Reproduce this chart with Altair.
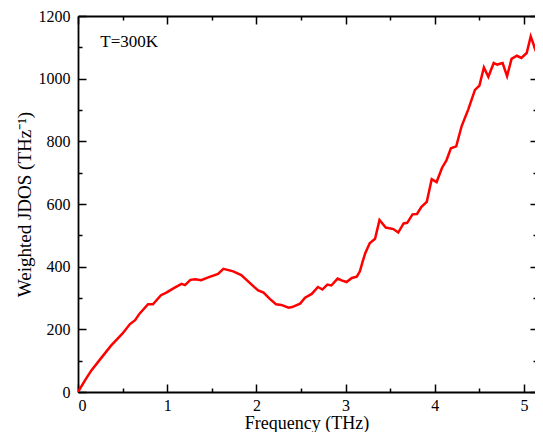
import altair as alt
import pandas as pd

# ---- data ----
freq = [0.00, 0.08, 0.15, 0.25, 0.37, 0.50, 0.58, 0.64, 0.69, 0.785, 0.84, 0.93, 0.99,
        1.065, 1.16, 1.20, 1.26, 1.315, 1.38, 1.46, 1.57, 1.63, 1.74, 1.83, 1.965, 2.02,
        2.08, 2.15, 2.22, 2.28, 2.36, 2.40, 2.49, 2.545, 2.62, 2.69, 2.74, 2.795, 2.84,
        2.91, 2.955, 3.01, 3.07, 3.125, 3.16, 3.19, 3.22, 3.27, 3.33, 3.38, 3.45, 3.535,
        3.59, 3.65, 3.69, 3.75, 3.80, 3.85, 3.91, 3.965, 4.02, 4.08, 4.13, 4.18, 4.24,
        4.30, 4.375, 4.45, 4.50, 4.55, 4.60, 4.66, 4.70, 4.76, 4.81, 4.86, 4.92, 4.97,
        5.03, 5.075, 5.13, 5.18, 5.21, 5.25]
jdos = [0, 38, 69, 105, 148, 187, 216, 229, 250, 280, 280, 309, 317,
        330, 345, 341, 358, 360, 357, 366, 377, 393, 385, 373, 338, 324,
        317, 297, 280, 278, 269, 271, 282, 301, 313, 335, 327, 343, 340,
        362, 356, 351, 364, 368, 385, 415, 443, 475, 489, 549, 525, 520,
        509, 538, 540, 567, 568, 591, 607, 679, 670, 715, 739, 778, 784,
        848, 902, 964, 978, 1036, 1006, 1050, 1045, 1050, 1008, 1063, 1073, 1066,
        1082, 1135, 1090, 1094, 1108, 1118]

x_major = [0, 1, 2, 3, 4, 5]
x_minor = [0.5, 1.5, 2.5, 3.5, 4.5]
y_major = [0, 200, 400, 600, 800, 1000, 1200]
y_minor = [100, 300, 500, 700, 900, 1100]

note_text = ["T=300K"]
note_x = [0.25]
note_y = [1100]

x_title = "Frequency (THz)"
y_title = "Weighted JDOS (THz\u207b\u00b9)"

df = pd.DataFrame({"f": freq, "v": jdos})
notes = pd.DataFrame({"f": note_x, "v": note_y, "t": note_text})

X_DOMAIN = [0, 5.123]
Y_DOMAIN = [0, 1200]
FONT = "Liberation Serif, Times New Roman, serif"
BLACK = "#000000"


def xs(axis):
    return alt.X("f:Q", scale=alt.Scale(domain=X_DOMAIN, nice=False, zero=False), axis=axis)


def ys(axis):
    return alt.Y("v:Q", scale=alt.Scale(domain=Y_DOMAIN, nice=False, zero=False), axis=axis)


def tick_axis(orient, values, size):
    return alt.Axis(orient=orient, offset=-size, tickSize=size, values=values,
                    labels=False, domain=False, grid=False, title=None, ticks=True,
                    tickColor=BLACK, tickWidth=1.5)


main = alt.Chart(df).mark_line(color="#ff0000", strokeWidth=2.5, clip=True).encode(
    x=xs(alt.Axis(orient="bottom", values=x_major, format="d", ticks=False, domain=True,
                  domainColor=BLACK, domainWidth=1.8, titleFontSize=18,
                  grid=False, title=x_title, labelPadding=5, titlePadding=1)),
    y=ys(alt.Axis(orient="left", values=y_major, format="d", ticks=False, domain=True,
                  domainColor=BLACK, domainWidth=1.8, titleFontSize=19,
                  grid=False, title=y_title, labelPadding=8, titlePadding=4)),
)

note = alt.Chart(notes).mark_text(align="left", baseline="alphabetic", font=FONT,
                                  fontSize=17, color=BLACK).encode(
    x=xs(None), y=ys(None), text="t:N"
)

top_frame = alt.Chart(df).mark_line(strokeOpacity=0).encode(
    x=xs(alt.Axis(orient="top", domain=True, domainColor=BLACK, domainWidth=1.8,
                  ticks=False, labels=False, grid=False, title=None)),
    y=ys(None),
)


def tick_layer(xo, xv, xs_size, yo, yv, ys_size):
    return alt.Chart(df).mark_line(strokeOpacity=0).encode(
        x=xs(tick_axis(xo, xv, xs_size)),
        y=ys(tick_axis(yo, yv, ys_size)),
    )


chart = alt.layer(
    main,
    note,
    top_frame,
    tick_layer("bottom", x_major, 8, "left", y_major, 8),
    tick_layer("bottom", x_minor, 4, "left", y_minor, 4),
    tick_layer("top", x_major, 8, "right", y_major, 5),
    tick_layer("top", x_minor, 4, "right", y_minor, 2),
).resolve_axis(
    x="independent", y="independent"
).properties(
    width=457,
    height=376,
    padding={"left": 70, "top": 8, "right": 0, "bottom": 40},
    autosize=alt.AutoSizeParams(type="none"),
).configure_view(
    stroke=None
).configure_axis(
    labelFont=FONT, labelFontSize=16, labelColor=BLACK,
    titleFont=FONT, titleColor=BLACK, titleFontWeight="normal",
)

chart.save("out.html", embed_options={"renderer": "svg", "actions": False})
